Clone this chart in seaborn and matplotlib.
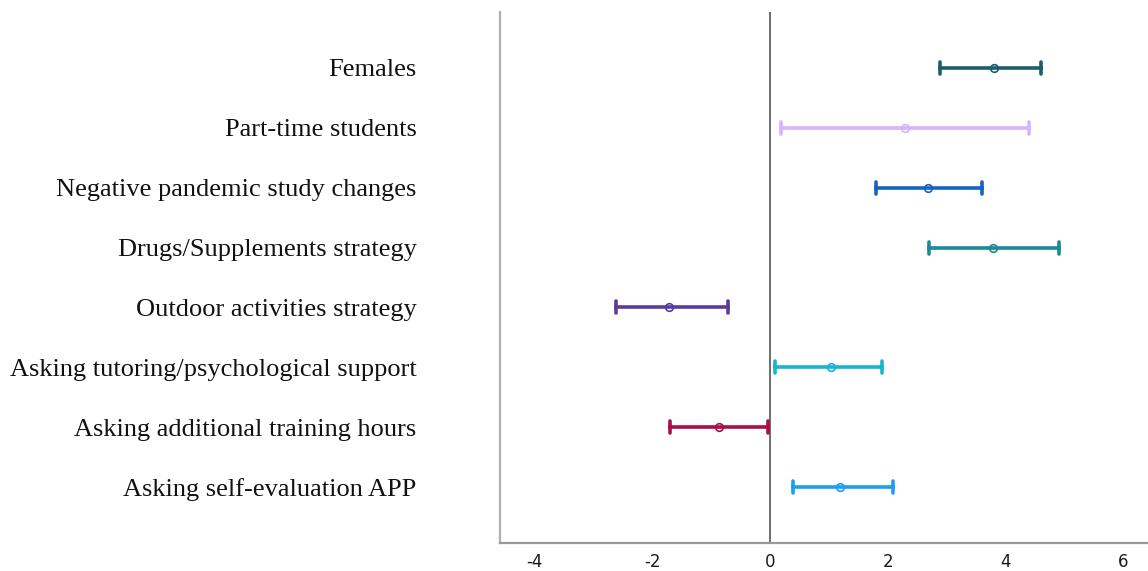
import matplotlib
matplotlib.use("Agg")
import matplotlib.pyplot as plt
import pandas as pd
import seaborn as sns

# factors, top to bottom
labels = [
    "Females",
    "Part-time students",
    "Negative pandemic study changes",
    "Drugs/Supplements strategy",
    "Outdoor activities strategy",
    "Asking tutoring/psychological support",
    "Asking additional training hours",
    "Asking self-evaluation APP",
]
estimate = [3.80, 2.29, 2.69, 3.79, -1.72, 1.03, -0.87, 1.19]
lower = [2.89, 0.19, 1.80, 2.70, -2.62, 0.09, -1.70, 0.39]
upper = [4.61, 4.40, 3.60, 4.91, -0.71, 1.90, -0.03, 2.08]
colors = ["#1b5e6c", "#d4b4fc", "#1565c0", "#1a8a99",
          "#5a3a9c", "#1bb4cf", "#a80f4a", "#1e9ef0"]

# long format: median of (lo, est, hi) = est, min-max interval = CI
rows = []
for lab, lo, est, hi in zip(labels, lower, estimate, upper):
    for v in (lo, est, hi):
        rows.append({"factor": lab, "value": v})
df = pd.DataFrame(rows)

sns.set_theme(style="white")
plt.rcParams["font.family"] = ["DejaVu Sans"]
plt.rcParams["axes.unicode_minus"] = False

fig = plt.figure(figsize=(11.48, 5.71), dpi=100)
ax = fig.add_axes([0.4355, 0.049, 0.5645, 0.930])

ax.axvline(0, color="#6e6e6e", lw=1.4, zorder=0)

sns.pointplot(data=df, x="value", y="factor", hue="factor", order=labels,
              hue_order=labels, palette=colors, estimator="median",
              errorbar=("pi", 100), orient="h", linestyle="none",
              capsize=0.2, err_kws={"linewidth": 2.6}, markers="o",
              markersize=5.5, markerfacecolor="none", markeredgewidth=1.2,
              legend=False, ax=ax)

ax.set_xlim(-4.59, 6.42)
ax.set_ylim(7.93, -0.93)
ax.set_xticks([-4, -2, 0, 2, 4, 6])
ax.set_xlabel("")
ax.set_ylabel("")

ax.tick_params(axis="x", length=0, pad=7)
for t in ax.get_xticklabels():
    t.set_fontfamily(["Liberation Sans Narrow", "DejaVu Sans"])
    t.set_fontsize(12)
    t.set_color("#1a1a1a")
ax.tick_params(axis="y", length=0, pad=60)
for t in ax.get_yticklabels():
    t.set_fontfamily("Liberation Serif")
    t.set_fontsize(19)
    t.set_color("#111111")

for s in ["top", "right"]:
    ax.spines[s].set_visible(False)
ax.spines["left"].set_color("#b0b0b0")
ax.spines["left"].set_linewidth(1.6)
ax.spines["bottom"].set_color("#9a9a9a")
ax.spines["bottom"].set_linewidth(1.6)

fig.savefig("out.png", dpi=100)
